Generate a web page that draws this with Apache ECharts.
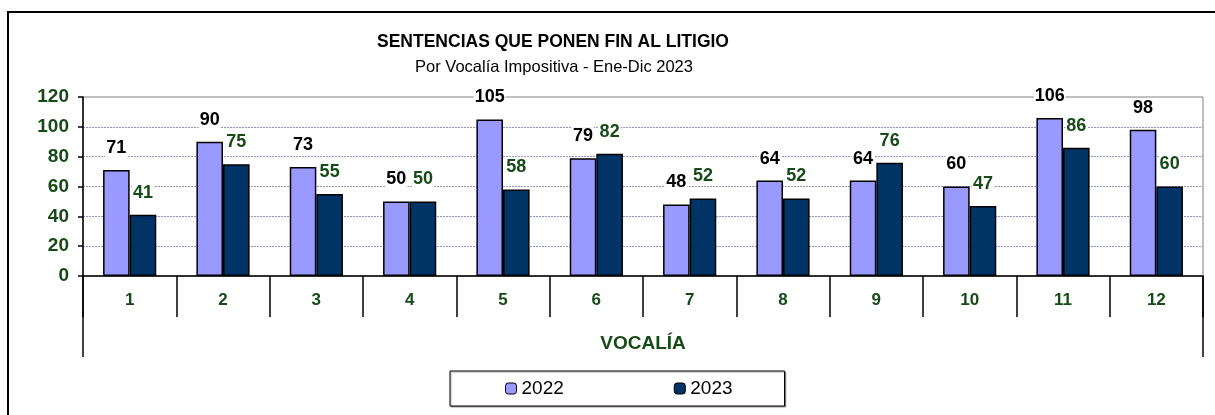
<!DOCTYPE html>
<html><head><meta charset="utf-8">
<script src="https://cdn.jsdelivr.net/npm/echarts@6/dist/echarts.min.js"></script>
<style>html,body{margin:0;padding:0;background:#fff}#c{width:1215px;height:415px}</style>
</head><body><div id="c"></div>
<script>
const categories = ['1','2','3','4','5','6','7','8','9','10','11','12'];
const values2022 = [71, 90, 73, 50, 105, 79, 48, 64, 64, 60, 106, 98];
const values2023 = [41, 75, 55, 50, 58, 82, 52, 52, 76, 47, 86, 60];
const yTicks = [0, 20, 40, 60, 80, 100, 120];
const seriesNames = ['2022', '2023'];

const FONT = 'Arial, "Liberation Sans", sans-serif';
const GREEN = '#164a16';
const chart = echarts.init(document.getElementById('c'), null, {renderer: 'canvas'});

const G = {left: 83, right: 12, top: 97, bottom: 139};
const plotRight = 1215 - G.right, plotBottom = 415 - G.bottom;

function barSeries(name, data, color, labelColor) {
  return {
    name: name, type: 'bar', data: data,
    barGap: '0%', barCategoryGap: '43%',
    itemStyle: {color: color, borderColor: '#000', borderWidth: 1.5},
    label: {show: true, position: 'top', distance: 13, color: labelColor,
      fontFamily: FONT, fontWeight: 'bold', fontSize: 18,
      backgroundColor: '#fff', padding: [0, 1]},
    z: 3
  };
}

chart.setOption({
  animation: false,
  textStyle: {fontFamily: FONT},
  title: [
    {text: 'SENTENCIAS QUE PONEN FIN AL LITIGIO', left: 548, top: 28, textAlign: 'center',
     textStyle: {fontFamily: FONT, fontSize: 17.5, fontWeight: 'bold', color: '#000'}},
    {text: 'Por Vocalía Impositiva - Ene-Dic 2023', left: 549, top: 54, textAlign: 'center',
     textStyle: {fontFamily: FONT, fontSize: 16.5, fontWeight: 'normal', color: '#000'}}
  ],
  legend: {
    data: seriesNames, left: 450, top: 371,
    padding: [8, 52, 8, 55], itemGap: 110,
    itemWidth: 11, itemHeight: 11,
    borderColor: '#000', borderWidth: 1, backgroundColor: '#fff',
    shadowColor: 'rgba(0,0,0,0.35)', shadowOffsetX: 1, shadowOffsetY: 1, shadowBlur: 1,
    textStyle: {fontFamily: FONT, fontSize: 19, color: '#000'},
    itemStyle: {borderColor: '#000', borderWidth: 1}
  },
  grid: Object.assign({show: true, borderColor: '#808080', borderWidth: 1, backgroundColor: '#fff'}, G),
  xAxis: {
    type: 'category', data: categories,
    axisLine: {lineStyle: {color: '#000', width: 1.5}},
    axisTick: {show: true, length: 41, lineStyle: {color: '#000', width: 1.5}},
    axisLabel: {color: GREEN, fontFamily: FONT, fontWeight: 'bold', fontSize: 17, margin: 16},
    name: 'VOCALÍA', nameLocation: 'middle', nameGap: 58,
    nameTextStyle: {color: GREEN, fontFamily: FONT, fontWeight: 'bold', fontSize: 19}
  },
  yAxis: {
    type: 'value', min: yTicks[0], max: yTicks[yTicks.length - 1], interval: yTicks[1] - yTicks[0],
    axisLine: {show: true, lineStyle: {color: '#000', width: 1.5}},
    axisTick: {show: true, length: 5, lineStyle: {color: '#000', width: 1.5}},
    axisLabel: {color: GREEN, fontFamily: FONT, fontWeight: 'bold', fontSize: 19, margin: 14},
    splitLine: {show: true, lineStyle: {
      color: ['rgba(0,0,0,0)', '#9494c0', '#9494c0', '#9494c0', '#9494c0', '#9494c0', 'rgba(0,0,0,0)'],
      type: [2, 1], width: 1}}
  },
  graphic: [
    {type: 'rect', silent: true, z: -10,
     shape: {x: 8, y: 12, width: 1400, height: 600},
     style: {fill: 'none', stroke: '#000', lineWidth: 2}},
    {type: 'line', silent: true, shape: {x1: G.left, y1: plotBottom, x2: G.left, y2: 357},
     style: {stroke: '#000', lineWidth: 1.5}},
    {type: 'line', silent: true, shape: {x1: plotRight, y1: plotBottom, x2: plotRight, y2: 357},
     style: {stroke: '#000', lineWidth: 1.5}}
  ],
  series: [
    barSeries(seriesNames[0], values2022, '#9999ff', '#000'),
    barSeries(seriesNames[1], values2023, '#003366', GREEN)
  ]
});
</script></body></html>
